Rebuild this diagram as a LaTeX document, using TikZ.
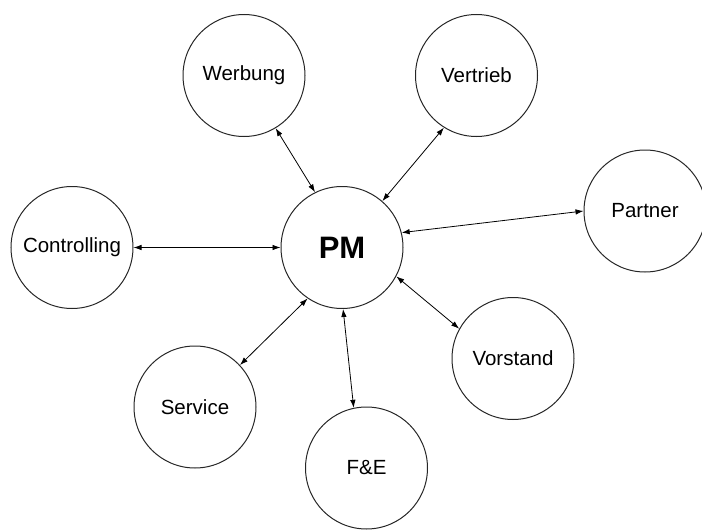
\documentclass[tikz,border=0pt]{standalone}
\usepackage{fontspec}
\setmainfont{Liberation Sans}
\usepackage{tikz}
\usetikzlibrary{arrows.meta}
\tikzstyle{unit} = [draw=black!85, line width=1pt, circle, minimum size=122pt,
    inner sep=0pt, font=\fontsize{20.5}{24}\selectfont]
\tikzstyle{center} = [unit, font=\fontsize{31}{31}\selectfont\bfseries]
\tikzstyle{link} = [line width=0.8pt, {Latex[length=8pt,width=5.5pt]}-{Latex[length=8pt,width=5.5pt]}]

\begin{document}
\begin{tikzpicture}[x=1pt, y=-1pt]
                \useasboundingbox (0,0) rectangle (702,530);
                \node [center] (pm) at (342,247.5) {PM};
                \node [unit] (werbung) at (244,75.5) {Werbung};
                \node [unit] (vertrieb) at (476.5,75.5) {Vertrieb};
                \node [unit] (partner) at (645,211) {Partner};
                \node [unit] (controlling) at (72,247.5) {Controlling};
                \node [unit] (service) at (195,407) {Service};
                \node [unit] (fue) at (366.5,468) {F\&E};
                \node [unit] (vorstand) at (513,358.5) {Vorstand};
                % Verbindungen zum PM
                \draw [link] (werbung.-59) -- (pm.116);
                \draw [link] (vertrieb.238) -- (pm.49);
                \draw [link] (partner.180) -- (pm.14);
                \draw [link] (controlling.0) -- (pm.180);
                \draw [link] (service.43) -- (pm.236);
                \draw [link] (fue.102) -- (pm.271);
                \draw [link] (vorstand.151) -- (pm.-28);
            \end{tikzpicture}
\end{document}
